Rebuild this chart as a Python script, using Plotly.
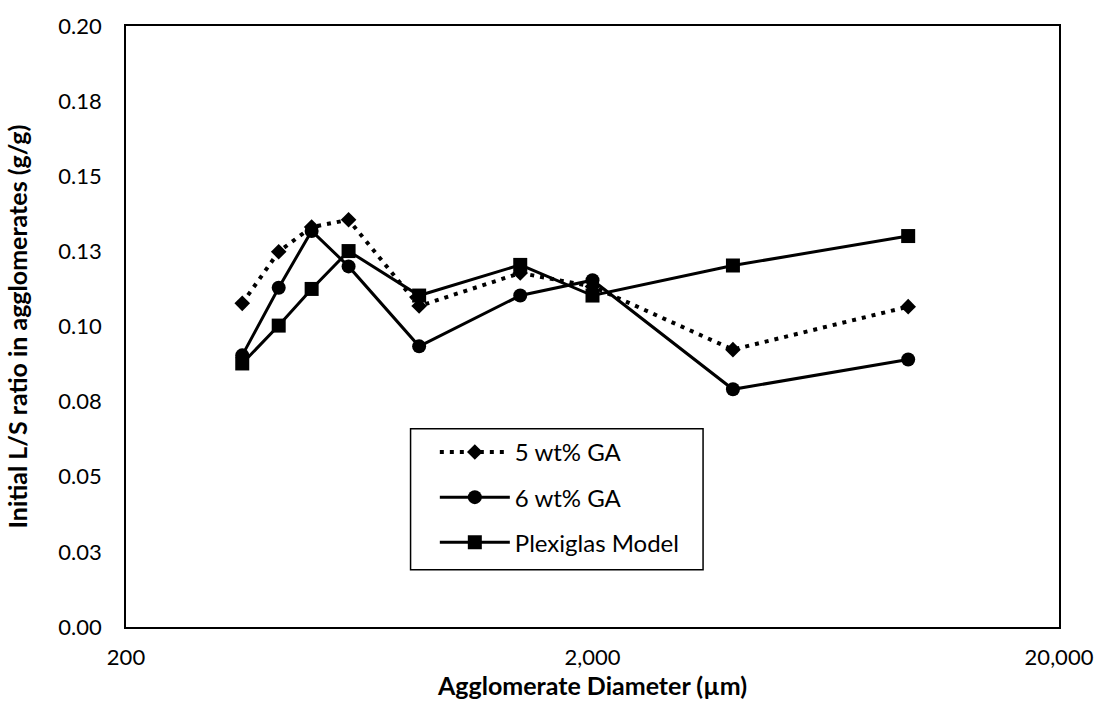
import plotly.graph_objects as go

# Agglomerate size classes (µm) and initial liquid-to-solid ratios (g/g)
diameter_um = [355, 425, 500, 600, 850, 1400, 2000, 4000, 9500]
ga5_ratio = [0.1077, 0.1249, 0.1331, 0.1355, 0.1068, 0.1178, 0.1133, 0.0923, 0.1066]
ga6_ratio = [0.0904, 0.1129, 0.1318, 0.1200, 0.0934, 0.1103, 0.1154, 0.0791, 0.0890]
plexi_ratio = [0.0877, 0.1003, 0.1125, 0.1251, 0.1103, 0.1205, 0.1103, 0.1203, 0.1301]

y_tickvals = [0.0, 0.025, 0.05, 0.075, 0.1, 0.125, 0.15, 0.175, 0.2]
y_ticktext = ["0.00", "0.03", "0.05", "0.08", "0.10", "0.13", "0.15", "0.18", "0.20"]
x_tickvals = [200, 2000, 20000]
x_ticktext = ["200", "2,000", "20,000"]

FONT = "Lato, Open Sans, sans-serif"

fig = go.Figure()
fig.add_trace(go.Scatter(
    x=diameter_um, y=ga5_ratio, name="5 wt% GA", mode="lines+markers",
    legendgroup="a",
    line=dict(color="black", width=4, dash="4px,6px"),
    marker=dict(symbol="diamond", size=12, color="black"),
))
fig.add_trace(go.Scatter(
    x=diameter_um, y=ga6_ratio, name="6 wt% GA", mode="lines+markers",
    legendgroup="b",
    line=dict(color="black", width=3),
    marker=dict(symbol="circle", size=14, color="black"),
))
fig.add_trace(go.Scatter(
    x=diameter_um, y=plexi_ratio, name="Plexiglas Model", mode="lines+markers",
    legendgroup="c",
    line=dict(color="black", width=3),
    marker=dict(symbol="square", size=14, color="black"),
))

# legend frame
fig.add_shape(
    type="rect", xref="paper", yref="paper",
    x0=0.305, x1=0.6185, y0=0.0952, y1=0.330,
    line=dict(color="black", width=1.5), fillcolor="rgba(0,0,0,0)", layer="below",
)

fig.update_layout(
    width=1106, height=711,
    margin=dict(l=126, r=39, t=18, b=84),
    paper_bgcolor="white", plot_bgcolor="white",
    font=dict(family=FONT, size=22, color="black"),
    showlegend=True,
    legend=dict(
        x=0.331, y=0.328, xanchor="left", yanchor="top",
        borderwidth=0, bgcolor="rgba(0,0,0,0)",
        font=dict(family=FONT, size=24, color="black"),
        traceorder="grouped", tracegroupgap=11,
        itemwidth=70,
    ),
    xaxis=dict(
        type="log", range=[2.30103, 4.30103],
        tickvals=x_tickvals, ticktext=x_ticktext,
        showline=True, linecolor="black", linewidth=1.5, mirror=True,
        showgrid=False, zeroline=False, ticks="",
        tickfont=dict(size=22), ticklabelstandoff=10,
        title=dict(text="<b>Agglomerate Diameter (µm)</b>", font=dict(size=25), standoff=6),
    ),
    yaxis=dict(
        range=[0, 0.2],
        tickvals=y_tickvals, ticktext=y_ticktext,
        showline=True, linecolor="black", linewidth=1.5, mirror=True,
        showgrid=False, zeroline=False, ticks="",
        tickfont=dict(size=22), ticklabelstandoff=18,
        title=dict(text="<b>Initial L/S ratio in agglomerates (g/g)</b>", font=dict(size=25), standoff=24),
    ),
)

fig.write_html("out.html")
